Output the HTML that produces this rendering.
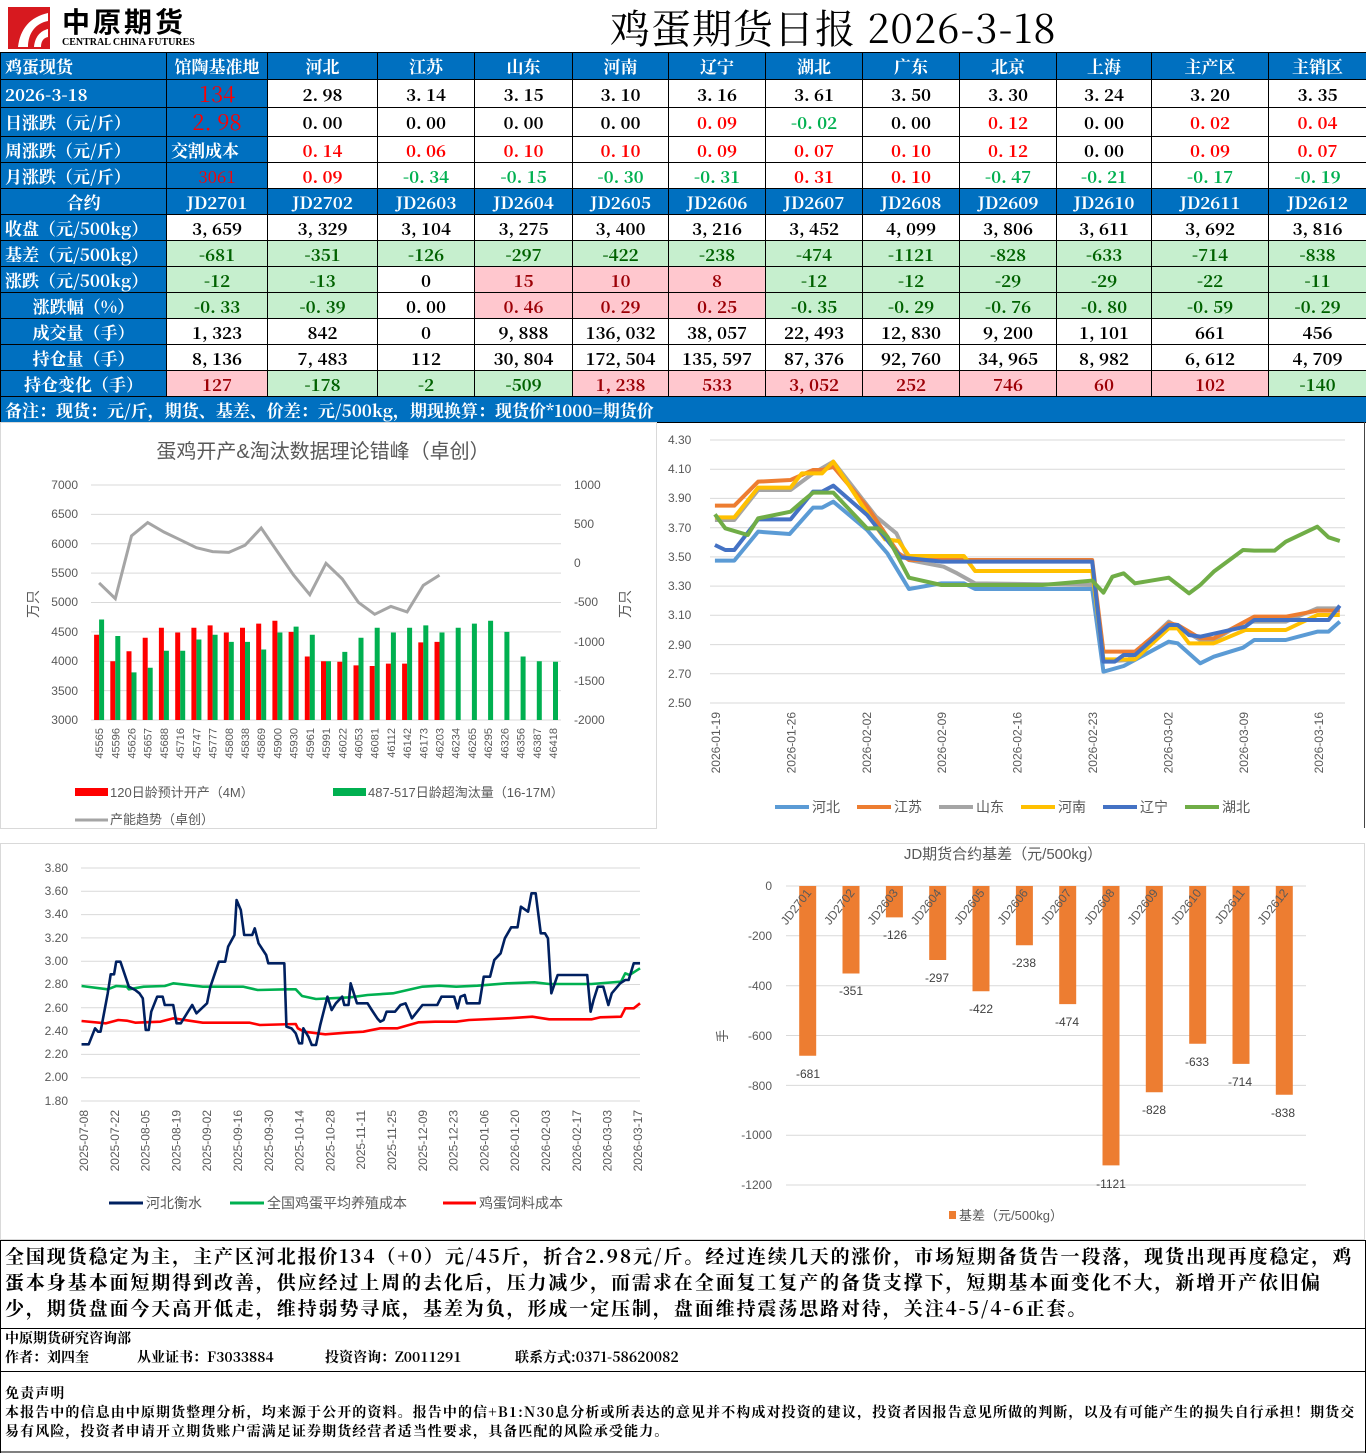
<!DOCTYPE html>
<html><head><meta charset="utf-8">
<style>
*{margin:0;padding:0;box-sizing:border-box}
body{width:1366px;height:1453px;background:#fff;position:relative;overflow:hidden;font-family:"Liberation Serif","Noto Serif CJK SC",serif}
.abs{position:absolute}
table{position:absolute;left:0;top:52px;border-collapse:collapse;table-layout:fixed;width:1366px}
td{border:1px solid #000;padding:0;text-align:center;font-size:17px;font-weight:bold;white-space:nowrap;overflow:hidden;line-height:20px;font-family:"Noto Serif CJK SC",serif}
.b{background:#0070C0;color:#fff}
.l{text-align:left;padding-left:4px}
.r{color:#f00}.g{color:#00B050}
.G{background:#C6EFCE;color:#006100}
.P{background:#FFC7CE;color:#9C0006}
</style></head><body>
<div class="abs" style="left:8px;top:7px;width:42px;height:42px;background:#d7191f"></div>
<svg class="abs" style="left:8px;top:7px" width="42" height="42"><path d="M10 40 C12 22 22 10 40 6 L40 14 C28 16 20 26 20 40 Z" fill="#fff"/><path d="M26 40 C27 30 32 24 40 22 L40 30 C35 31 33 35 33 40Z" fill="#fff"/></svg>
<div class="abs" style="left:62px;top:5px;font-size:28px;font-weight:bold;font-family:'Noto Sans CJK SC',sans-serif;letter-spacing:3px;line-height:32px">中原期货</div>
<div class="abs" style="left:62px;top:37px;font-size:10px;font-weight:bold;line-height:12px">CENTRAL CHINA FUTURES</div>
<div class="abs" style="left:610px;top:3px;font-size:40px;line-height:48px;letter-spacing:1px;font-family:'Noto Serif CJK SC',serif">鸡蛋期货日报 2026-3-18</div>

<table>
<colgroup><col style="width:166px"><col style="width:101px"><col style="width:110px"><col style="width:97px"><col style="width:98px"><col style="width:96px"><col style="width:97px"><col style="width:97px"><col style="width:97px"><col style="width:97px"><col style="width:95px"><col style="width:117px"><col style="width:98px"></colgroup>
<tr style="height:27px" class="b"><td class="l">鸡蛋现货</td><td>馆陶基准地</td><td>河北</td><td>江苏</td><td>山东</td><td>河南</td><td>辽宁</td><td>湖北</td><td>广东</td><td>北京</td><td>上海</td><td>主产区</td><td>主销区</td></tr>
<tr style="height:28px"><td class="b l">2026-3-18</td><td class="b" style="color:#f00;font-size:22px;font-weight:normal">134</td><td>2. 98</td><td>3. 14</td><td>3. 15</td><td>3. 10</td><td>3. 16</td><td>3. 61</td><td>3. 50</td><td>3. 30</td><td>3. 24</td><td>3. 20</td><td>3. 35</td></tr>
<tr style="height:29px"><td class="b l">日涨跌（元/斤）</td><td class="b" style="color:#f00;font-size:22px;font-weight:normal">2. 98</td><td>0. 00</td><td>0. 00</td><td>0. 00</td><td>0. 00</td><td class="r">0. 09</td><td class="g">-0. 02</td><td>0. 00</td><td class="r">0. 12</td><td>0. 00</td><td class="r">0. 02</td><td class="r">0. 04</td></tr>
<tr style="height:26px"><td class="b l">周涨跌（元/斤）</td><td class="b l">交割成本</td><td class="r">0. 14</td><td class="r">0. 06</td><td class="r">0. 10</td><td class="r">0. 10</td><td class="r">0. 09</td><td class="r">0. 07</td><td class="r">0. 10</td><td class="r">0. 12</td><td>0. 00</td><td class="r">0. 09</td><td class="r">0. 07</td></tr>
<tr style="height:26px"><td class="b l">月涨跌（元/斤）</td><td class="b" style="color:#f00;font-weight:normal">3061</td><td class="r">0. 09</td><td class="g">-0. 34</td><td class="g">-0. 15</td><td class="g">-0. 30</td><td class="g">-0. 31</td><td class="r">0. 31</td><td class="r">0. 10</td><td class="g">-0. 47</td><td class="g">-0. 21</td><td class="g">-0. 17</td><td class="g">-0. 19</td></tr>
<tr style="height:26px" class="b"><td>合约</td><td>JD2701</td><td>JD2702</td><td>JD2603</td><td>JD2604</td><td>JD2605</td><td>JD2606</td><td>JD2607</td><td>JD2608</td><td>JD2609</td><td>JD2610</td><td>JD2611</td><td>JD2612</td></tr>
<tr style="height:26px"><td class="b l">收盘（元/500kg）</td><td>3, 659</td><td>3, 329</td><td>3, 104</td><td>3, 275</td><td>3, 400</td><td>3, 216</td><td>3, 452</td><td>4, 099</td><td>3, 806</td><td>3, 611</td><td>3, 692</td><td>3, 816</td></tr>
<tr style="height:26px"><td class="b l">基差（元/500kg）</td><td class="G">-681</td><td class="G">-351</td><td class="G">-126</td><td class="G">-297</td><td class="G">-422</td><td class="G">-238</td><td class="G">-474</td><td class="G">-1121</td><td class="G">-828</td><td class="G">-633</td><td class="G">-714</td><td class="G">-838</td></tr>
<tr style="height:26px"><td class="b l">涨跌（元/500kg）</td><td class="G">-12</td><td class="G">-13</td><td>0</td><td class="P">15</td><td class="P">10</td><td class="P">8</td><td class="G">-12</td><td class="G">-12</td><td class="G">-29</td><td class="G">-29</td><td class="G">-22</td><td class="G">-11</td></tr>
<tr style="height:26px"><td class="b">涨跌幅（%）</td><td class="G">-0. 33</td><td class="G">-0. 39</td><td>0. 00</td><td class="P">0. 46</td><td class="P">0. 29</td><td class="P">0. 25</td><td class="G">-0. 35</td><td class="G">-0. 29</td><td class="G">-0. 76</td><td class="G">-0. 80</td><td class="G">-0. 59</td><td class="G">-0. 29</td></tr>
<tr style="height:26px"><td class="b">成交量（手）</td><td>1, 323</td><td>842</td><td>0</td><td>9, 888</td><td>136, 032</td><td>38, 057</td><td>22, 493</td><td>12, 830</td><td>9, 200</td><td>1, 101</td><td>661</td><td>456</td></tr>
<tr style="height:26px"><td class="b">持仓量（手）</td><td>8, 136</td><td>7, 483</td><td>112</td><td>30, 804</td><td>172, 504</td><td>135, 597</td><td>87, 376</td><td>92, 760</td><td>34, 965</td><td>8, 982</td><td>6, 612</td><td>4, 709</td></tr>
<tr style="height:26px"><td class="b">持仓变化（手）</td><td class="P">127</td><td class="G">-178</td><td class="G">-2</td><td class="G">-509</td><td class="P">1, 238</td><td class="P">533</td><td class="P">3, 052</td><td class="P">252</td><td class="P">746</td><td class="P">60</td><td class="P">102</td><td class="G">-140</td></tr>
<tr style="height:26px" class="b"><td colspan="13" class="l">备注：现货：元/斤，期货、基差、价差：元/500kg，期现换算：现货价*1000=期货价</td></tr>
</table>

<svg class="abs" style="left:0;top:0" width="1366" height="1453" font-family="'Liberation Sans','Noto Sans CJK SC',sans-serif">
<rect x="0.5" y="422.5" width="656" height="406" fill="none" stroke="#d9d9d9"/>
<line x1="1364.5" y1="422" x2="1364.5" y2="828" stroke="#444"/>
<rect x="0.5" y="843.5" width="1364" height="396" fill="none" stroke="#d9d9d9"/>

<text x="323" y="458" font-size="20" fill="#595959" text-anchor="middle">蛋鸡开产&amp;淘汰数据理论错峰（卓创）</text>
<g stroke="#d9d9d9" stroke-width="1">
<line x1="91" y1="485" x2="561" y2="485"/><line x1="91" y1="514.4" x2="561" y2="514.4"/><line x1="91" y1="543.7" x2="561" y2="543.7"/><line x1="91" y1="573.1" x2="561" y2="573.1"/><line x1="91" y1="602.5" x2="561" y2="602.5"/><line x1="91" y1="631.9" x2="561" y2="631.9"/><line x1="91" y1="661.2" x2="561" y2="661.2"/><line x1="91" y1="690.6" x2="561" y2="690.6"/><line x1="91" y1="720" x2="561" y2="720"/>
</g>
<g font-size="12" fill="#595959" text-anchor="end">
<text x="78" y="489">7000</text><text x="78" y="518">6500</text><text x="78" y="548">6000</text><text x="78" y="577">5500</text><text x="78" y="606">5000</text><text x="78" y="636">4500</text><text x="78" y="665">4000</text><text x="78" y="695">3500</text><text x="78" y="724">3000</text>
</g>
<g font-size="12" fill="#595959">
<text x="574" y="489">1000</text><text x="574" y="528">500</text><text x="574" y="567">0</text><text x="574" y="606">-500</text><text x="574" y="646">-1000</text><text x="574" y="685">-1500</text><text x="574" y="724">-2000</text>
</g>
<text transform="translate(38,604) rotate(-90)" font-size="14" fill="#595959" text-anchor="middle">万只</text>
<text transform="translate(630,604) rotate(-90)" font-size="14" fill="#595959" text-anchor="middle">万只</text>
<path stroke="#f00" stroke-width="5" fill="none" d="M96.6 720V634.8M112.8 720V661.2M129 720V651.3M145.2 720V637.8M161.4 720V627.8M177.7 720V632.5M193.9 720V627.8M210.1 720V625.4M226.3 720V632.5M242.5 720V627.8M258.7 720V623.6M274.9 720V620.7M291.1 720V631.9M307.3 720V656.5M323.5 720V661.2M339.8 720V661.8M356 720V665.4M372.2 720V666M388.4 720V663.6M404.6 720V663.6M420.8 720V642.4M437 720V641.9"/>
<path stroke="#00B050" stroke-width="5" fill="none" d="M101.6 720V619.5M117.8 720V636M134 720V672.4M150.2 720V667.7M166.4 720V650.7M182.7 720V650.7M198.9 720V639.5M215.1 720V634.8M231.3 720V641.9M247.5 720V641.9M263.7 720V649.5M279.9 720V632.5M296.1 720V626.6M312.3 720V634.8M328.5 720V661.2M344.8 720V651.9M361 720V637.8M377.2 720V627.8M393.4 720V632.5M409.6 720V627.8M425.8 720V625.4M442 720V632.5M458.2 720V627.8M474.4 720V623.6M490.6 720V620.7M506.9 720V631.9M523.1 720V656.5M539.3 720V661.2M555.5 720V661.8"/>
<polyline fill="none" stroke="#a5a5a5" stroke-width="3" points="99.1,582.9 115.3,598.6 131.5,535.9 147.7,522.6 163.9,532 180.2,539.8 196.4,547.7 212.6,551.6 228.8,552.4 245,545.3 261.2,528 277.4,551.6 293.6,575.1 309.8,594.7 326,563.3 342.3,579 358.5,602.5 374.7,614.3 390.9,606.4 407.1,611.9 423.3,585.3 439.5,575.1"/>
<g font-size="11" fill="#595959" text-anchor="end">
<text transform="translate(103,728) rotate(-90)">45565</text><text transform="translate(119.3,728) rotate(-90)">45596</text><text transform="translate(135.5,728) rotate(-90)">45626</text><text transform="translate(151.7,728) rotate(-90)">45657</text><text transform="translate(167.9,728) rotate(-90)">45688</text><text transform="translate(184.2,728) rotate(-90)">45716</text><text transform="translate(200.4,728) rotate(-90)">45747</text><text transform="translate(216.6,728) rotate(-90)">45777</text><text transform="translate(232.8,728) rotate(-90)">45808</text><text transform="translate(249,728) rotate(-90)">45838</text><text transform="translate(265.2,728) rotate(-90)">45869</text><text transform="translate(281.4,728) rotate(-90)">45900</text><text transform="translate(297.6,728) rotate(-90)">45930</text><text transform="translate(313.8,728) rotate(-90)">45961</text><text transform="translate(330,728) rotate(-90)">45991</text><text transform="translate(346.3,728) rotate(-90)">46022</text><text transform="translate(362.5,728) rotate(-90)">46053</text><text transform="translate(378.7,728) rotate(-90)">46081</text><text transform="translate(394.9,728) rotate(-90)">46112</text><text transform="translate(411.1,728) rotate(-90)">46142</text><text transform="translate(427.3,728) rotate(-90)">46173</text><text transform="translate(443.5,728) rotate(-90)">46203</text><text transform="translate(459.7,728) rotate(-90)">46234</text><text transform="translate(475.9,728) rotate(-90)">46265</text><text transform="translate(492.1,728) rotate(-90)">46295</text><text transform="translate(508.4,728) rotate(-90)">46326</text><text transform="translate(524.6,728) rotate(-90)">46356</text><text transform="translate(540.8,728) rotate(-90)">46387</text><text transform="translate(557,728) rotate(-90)">46418</text>
</g>
<rect x="75" y="788" width="33" height="8" fill="#f00"/><text x="110" y="797" font-size="13" fill="#595959">120日龄预计开产（4M）</text>
<rect x="333" y="788" width="33" height="8" fill="#00B050"/><text x="368" y="797" font-size="13" fill="#595959">487-517日龄超淘汰量（16-17M）</text>
<line x1="75" y1="820" x2="108" y2="820" stroke="#a5a5a5" stroke-width="3"/><text x="110" y="824" font-size="13" fill="#595959">产能趋势（卓创）</text>

<g stroke="#d9d9d9">
<line x1="710" y1="440" x2="1345" y2="440"/><line x1="710" y1="469.2" x2="1345" y2="469.2"/><line x1="710" y1="498.4" x2="1345" y2="498.4"/><line x1="710" y1="527.7" x2="1345" y2="527.7"/><line x1="710" y1="556.9" x2="1345" y2="556.9"/><line x1="710" y1="586.1" x2="1345" y2="586.1"/><line x1="710" y1="615.3" x2="1345" y2="615.3"/><line x1="710" y1="644.6" x2="1345" y2="644.6"/><line x1="710" y1="673.8" x2="1345" y2="673.8"/><line x1="710" y1="703" x2="1345" y2="703"/>
</g>
<g font-size="12" fill="#595959">
<text x="668" y="444">4.30</text><text x="668" y="473">4.10</text><text x="668" y="502">3.90</text><text x="668" y="532">3.70</text><text x="668" y="561">3.50</text><text x="668" y="590">3.30</text><text x="668" y="619">3.10</text><text x="668" y="649">2.90</text><text x="668" y="678">2.70</text><text x="668" y="707">2.50</text>
</g>
<g transform="translate(660,420) scale(0.4502,0.33333)" fill="none" stroke-width="4" stroke-linejoin="round">
<polyline vector-effect="non-scaling-stroke" stroke="#A5A5A5" points="122,300 165,300 218,210 290,210 340,160 385,125 480,290 525,340 553,420 630,440 660,460 700,490 960,495 985,725 1040,720 1130,605 1200,660 1230,660 1300,605 1390,605 1460,565 1510,565"/>
<polyline vector-effect="non-scaling-stroke" stroke="#ED7D31" points="122,257 165,257 218,185 290,180 340,150 360,150 385,140 460,260 500,340 530,400 553,420 700,420 960,420 985,695 1055,695 1130,610 1150,615 1200,655 1230,655 1320,590 1390,590 1460,572 1510,572"/>
<polyline vector-effect="non-scaling-stroke" stroke="#5B9BD5" points="122,422 165,422 218,335 288,342 340,263 360,263 385,245 460,330 505,400 553,507 625,490 675,490 700,507 960,507 985,755 1030,738 1130,665 1150,670 1200,730 1230,710 1295,683 1320,660 1390,660 1460,635 1485,635 1510,605"/>
<polyline vector-effect="non-scaling-stroke" stroke="#FFC000" points="122,292 165,292 218,203 290,203 315,160 360,160 385,125 480,320 500,358 530,363 553,408 675,408 700,453 960,453 985,718 1055,718 1130,625 1150,625 1175,670 1230,670 1300,630 1390,630 1460,585 1510,585"/>
<polyline vector-effect="non-scaling-stroke" stroke="#4472C4" points="122,375 145,390 165,390 218,298 290,298 340,215 360,215 385,197 460,285 535,412 625,425 960,425 985,725 1010,725 1030,705 1055,705 1130,615 1150,615 1175,645 1200,650 1300,620 1320,600 1485,600 1510,557"/>
<polyline vector-effect="non-scaling-stroke" stroke="#70AD47" points="122,283 145,325 195,345 218,295 290,275 320,240 340,218 385,218 460,325 485,325 505,350 553,473 625,495 850,495 960,482 985,518 1005,470 1030,460 1055,490 1130,473 1175,520 1200,495 1230,455 1295,390 1320,392 1365,392 1390,365 1460,320 1485,352 1510,363"/>
</g>
<g font-size="12" fill="#595959" text-anchor="end">
<text transform="translate(720,712) rotate(-90)">2026-01-19</text><text transform="translate(795.4,712) rotate(-90)">2026-01-26</text><text transform="translate(870.8,712) rotate(-90)">2026-02-02</text><text transform="translate(946.2,712) rotate(-90)">2026-02-09</text><text transform="translate(1021.6,712) rotate(-90)">2026-02-16</text><text transform="translate(1097,712) rotate(-90)">2026-02-23</text><text transform="translate(1172.4,712) rotate(-90)">2026-03-02</text><text transform="translate(1247.8,712) rotate(-90)">2026-03-09</text><text transform="translate(1323.2,712) rotate(-90)">2026-03-16</text>
</g>
<g stroke-width="4" font-size="14" fill="#595959">
<line x1="775" y1="807" x2="809" y2="807" stroke="#5B9BD5"/><text x="812" y="812">河北</text>
<line x1="857" y1="807" x2="891" y2="807" stroke="#ED7D31"/><text x="894" y="812">江苏</text>
<line x1="939" y1="807" x2="973" y2="807" stroke="#A5A5A5"/><text x="976" y="812">山东</text>
<line x1="1021" y1="807" x2="1055" y2="807" stroke="#FFC000"/><text x="1058" y="812">河南</text>
<line x1="1103" y1="807" x2="1137" y2="807" stroke="#4472C4"/><text x="1140" y="812">辽宁</text>
<line x1="1185" y1="807" x2="1219" y2="807" stroke="#70AD47"/><text x="1222" y="812">湖北</text>
</g>

<g stroke="#d9d9d9">
<line x1="81" y1="868" x2="640" y2="868"/><line x1="81" y1="891.3" x2="640" y2="891.3"/><line x1="81" y1="914.6" x2="640" y2="914.6"/><line x1="81" y1="937.9" x2="640" y2="937.9"/><line x1="81" y1="961.2" x2="640" y2="961.2"/><line x1="81" y1="984.5" x2="640" y2="984.5"/><line x1="81" y1="1007.8" x2="640" y2="1007.8"/><line x1="81" y1="1031.1" x2="640" y2="1031.1"/><line x1="81" y1="1054.4" x2="640" y2="1054.4"/><line x1="81" y1="1077.7" x2="640" y2="1077.7"/><line x1="81" y1="1101" x2="640" y2="1101"/>
</g>
<g font-size="12" fill="#595959" text-anchor="end">
<text x="68" y="872">3.80</text><text x="68" y="895">3.60</text><text x="68" y="918">3.40</text><text x="68" y="942">3.20</text><text x="68" y="965">3.00</text><text x="68" y="988">2.80</text><text x="68" y="1012">2.60</text><text x="68" y="1035">2.40</text><text x="68" y="1058">2.20</text><text x="68" y="1081">2.00</text><text x="68" y="1105">1.80</text>
</g>
<g transform="translate(0,840) scale(0.42247,0.33333)" fill="none" stroke-width="2.6" stroke-linejoin="round">
<polyline vector-effect="non-scaling-stroke" stroke="#00B050" points="193,438 255,448 275,438 300,440 305,448 340,440 390,438 410,430 480,440 575,440 610,450 680,448 700,448 715,468 748,477 830,472 870,465 930,460 1000,440 1040,437 1080,440 1130,437 1200,430 1265,427 1300,432 1400,432 1470,425 1480,400 1490,405 1515,385"/>
<polyline vector-effect="non-scaling-stroke" stroke="#f00" points="193,543 250,550 280,540 300,542 320,548 380,545 410,535 480,548 590,548 615,555 700,552 705,565 720,575 770,583 820,578 860,575 900,565 940,565 990,547 1030,545 1080,545 1110,540 1200,535 1260,530 1300,538 1400,538 1420,532 1470,530 1480,505 1500,505 1515,490"/>
<polyline vector-effect="non-scaling-stroke" stroke="#002060" points="193,613 210,613 225,565 232,575 238,575 255,460 262,403 270,403 275,365 285,365 305,440 320,450 330,460 338,475 345,570 352,570 358,515 372,470 385,470 390,495 410,495 418,550 428,550 445,515 455,495 465,520 490,490 498,440 518,365 533,365 540,320 555,285 560,180 570,210 578,285 597,285 603,265 612,310 630,345 635,370 673,370 678,560 690,565 700,580 708,610 715,610 718,565 730,590 738,615 748,615 758,555 775,470 785,510 795,490 810,470 815,495 825,495 830,430 845,490 870,490 880,510 893,535 900,545 908,540 915,515 935,515 948,495 960,490 975,535 1000,495 1035,495 1045,470 1075,470 1083,505 1090,470 1100,465 1105,490 1135,490 1145,410 1160,410 1170,360 1185,340 1195,295 1210,262 1225,262 1233,200 1250,215 1258,160 1268,160 1280,280 1290,280 1297,295 1305,460 1320,405 1390,405 1398,515 1405,480 1415,440 1428,440 1440,495 1448,460 1468,430 1480,420 1488,420 1500,370 1515,370"/>
</g>
<g font-size="12" fill="#595959" text-anchor="end">
<text transform="translate(88,1110) rotate(-90)">2025-07-08</text><text transform="translate(118.8,1110) rotate(-90)">2025-07-22</text><text transform="translate(149.6,1110) rotate(-90)">2025-08-05</text><text transform="translate(180.4,1110) rotate(-90)">2025-08-19</text><text transform="translate(211.2,1110) rotate(-90)">2025-09-02</text><text transform="translate(242,1110) rotate(-90)">2025-09-16</text><text transform="translate(272.8,1110) rotate(-90)">2025-09-30</text><text transform="translate(303.6,1110) rotate(-90)">2025-10-14</text><text transform="translate(334.4,1110) rotate(-90)">2025-10-28</text><text transform="translate(365.2,1110) rotate(-90)">2025-11-11</text><text transform="translate(396,1110) rotate(-90)">2025-11-25</text><text transform="translate(426.8,1110) rotate(-90)">2025-12-09</text><text transform="translate(457.6,1110) rotate(-90)">2025-12-23</text><text transform="translate(488.4,1110) rotate(-90)">2026-01-06</text><text transform="translate(519.2,1110) rotate(-90)">2026-01-20</text><text transform="translate(550,1110) rotate(-90)">2026-02-03</text><text transform="translate(580.8,1110) rotate(-90)">2026-02-17</text><text transform="translate(611.6,1110) rotate(-90)">2026-03-03</text><text transform="translate(642,1110) rotate(-90)">2026-03-17</text>
</g>
<g stroke-width="3" font-size="14" fill="#595959">
<line x1="109" y1="1203" x2="143" y2="1203" stroke="#002060"/><text x="146" y="1208">河北衡水</text>
<line x1="230" y1="1203" x2="264" y2="1203" stroke="#00B050"/><text x="267" y="1208">全国鸡蛋平均养殖成本</text>
<line x1="443" y1="1203" x2="476" y2="1203" stroke="#f00"/><text x="479" y="1208">鸡蛋饲料成本</text>
</g>

<text x="1003" y="859" font-size="15" fill="#595959" text-anchor="middle">JD期货合约基差（元/500kg）</text>
<g stroke="#d9d9d9">
<line x1="786" y1="886" x2="1306" y2="886"/><line x1="786" y1="935.8" x2="1306" y2="935.8"/><line x1="786" y1="985.7" x2="1306" y2="985.7"/><line x1="786" y1="1035.5" x2="1306" y2="1035.5"/><line x1="786" y1="1085.4" x2="1306" y2="1085.4"/><line x1="786" y1="1135.2" x2="1306" y2="1135.2"/><line x1="786" y1="1185" x2="1306" y2="1185"/>
</g>
<g font-size="12" fill="#595959" text-anchor="end">
<text x="772" y="890">0</text><text x="772" y="940">-200</text><text x="772" y="990">-400</text><text x="772" y="1040">-600</text><text x="772" y="1090">-800</text><text x="772" y="1139">-1000</text><text x="772" y="1189">-1200</text>
</g>
<text transform="translate(727,1036) rotate(-90)" font-size="13" fill="#595959" text-anchor="middle">手</text>
<path stroke="#ED7D31" stroke-width="17" fill="none" d="M807.7 886V1055.7M851 886V973.5M894.4 886V917.4M937.7 886V960M981 886V991.2M1024.4 886V945.3M1067.7 886V1004.1M1111 886V1165.4M1154.3 886V1092.3M1197.7 886V1043.7M1241 886V1063.9M1284.3 886V1094.8"/>
<g font-size="12" fill="#404040" text-anchor="middle">
<text x="808" y="1078">-681</text><text x="851" y="995">-351</text><text x="895" y="939">-126</text><text x="937" y="982">-297</text><text x="981" y="1013">-422</text><text x="1024" y="967">-238</text><text x="1067" y="1026">-474</text><text x="1111" y="1188">-1121</text><text x="1154" y="1114">-828</text><text x="1197" y="1066">-633</text><text x="1240" y="1086">-714</text><text x="1283" y="1117">-838</text>
</g>
<g font-size="12" fill="#595959" text-anchor="end">
<text transform="translate(812,893) rotate(-52)">JD2701</text><text transform="translate(855.3,893) rotate(-52)">JD2702</text><text transform="translate(898.6,893) rotate(-52)">JD2603</text><text transform="translate(942,893) rotate(-52)">JD2604</text><text transform="translate(985.3,893) rotate(-52)">JD2605</text><text transform="translate(1028.6,893) rotate(-52)">JD2606</text><text transform="translate(1072,893) rotate(-52)">JD2607</text><text transform="translate(1115.3,893) rotate(-52)">JD2608</text><text transform="translate(1158.6,893) rotate(-52)">JD2609</text><text transform="translate(1202,893) rotate(-52)">JD2610</text><text transform="translate(1245.3,893) rotate(-52)">JD2611</text><text transform="translate(1288.6,893) rotate(-52)">JD2612</text>
</g>
<rect x="949" y="1211" width="7" height="8" fill="#ED7D31"/><text x="959" y="1220" font-size="13" fill="#595959">基差（元/500kg）</text>

<line x1="0" y1="1240.5" x2="1366" y2="1240.5" stroke="#000"/>
<line x1="0" y1="1328.5" x2="1366" y2="1328.5" stroke="#000"/>
<line x1="0" y1="1371.5" x2="1366" y2="1371.5" stroke="#000"/>
<line x1="0" y1="1452" x2="1366" y2="1452" stroke="#000"/>
<line x1="0.5" y1="1240" x2="0.5" y2="1453" stroke="#000"/>
<line x1="1365.5" y1="1240" x2="1365.5" y2="1453" stroke="#000"/>
</svg>

<div class="abs" style="left:5px;top:1243px;width:1358px;font-size:19px;letter-spacing:1.9px;font-weight:bold;line-height:26px;font-family:'Noto Serif CJK SC',serif">全国现货稳定为主，主产区河北报价134（+0）元/45斤，折合2.98元/斤。经过连续几天的涨价，市场短期备货告一段落，现货出现再度稳定，鸡蛋本身基本面短期得到改善，供应经过上周的去化后，压力减少，而需求在全面复工复产的备货支撑下，短期基本面变化不大，新增开产依旧偏少，期货盘面今天高开低走，维持弱势寻底，基差为负，形成一定压制，盘面维持震荡思路对待，关注4-5/4-6正套。</div>
<div class="abs" style="left:5px;top:1329px;font-size:14px;font-weight:bold;line-height:19px;font-family:'Noto Serif CJK SC',serif">中原期货研究咨询部</div>
<div class="abs" style="left:5px;top:1348px;font-size:14px;font-weight:bold;line-height:19px;font-family:'Noto Serif CJK SC',serif">作者：刘四奎</div>
<div class="abs" style="left:137px;top:1348px;font-size:14px;font-weight:bold;line-height:19px;font-family:'Noto Serif CJK SC',serif">从业证书：F3033884</div>
<div class="abs" style="left:325px;top:1348px;font-size:14px;font-weight:bold;line-height:19px;font-family:'Noto Serif CJK SC',serif">投资咨询：Z0011291</div>
<div class="abs" style="left:515px;top:1348px;font-size:14px;font-weight:bold;line-height:19px;font-family:'Noto Serif CJK SC',serif">联系方式:0371-58620082</div>
<div class="abs" style="left:5px;top:1384px;width:1358px;font-size:14px;letter-spacing:1.1px;font-weight:bold;line-height:19px;font-family:'Noto Serif CJK SC',serif">免责声明<br>本报告中的信息由中原期货整理分析，均来源于公开的资料。报告中的信+B1:N30息分析或所表达的意见并不构成对投资的建议，投资者因报告意见所做的判断，以及有可能产生的损失自行承担！期货交易有风险，投资者申请开立期货账户需满足证券期货经营者适当性要求，具备匹配的风险承受能力。</div>
</body></html>
